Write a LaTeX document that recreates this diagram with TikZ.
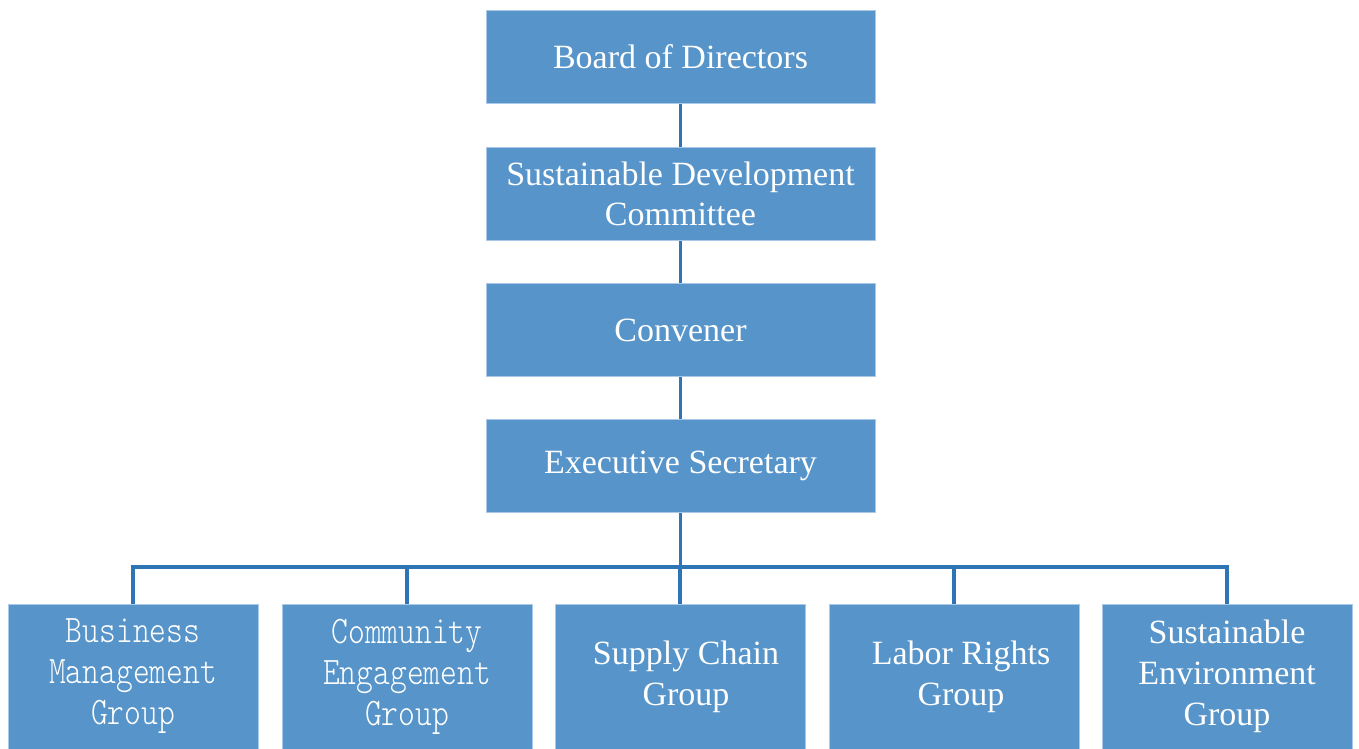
\documentclass[tikz,border=0pt]{standalone}
\usepackage{fontspec}
\setmainfont{Liberation Serif}
\newfontfamily\monof[FakeStretch=0.82]{Latin Modern Mono Light}
\definecolor{boxfill}{RGB}{86,148,201}
\definecolor{boxedge}{RGB}{170,200,232}
\definecolor{conncol}{RGB}{46,117,182}
\begin{document}
\begin{tikzpicture}[x=1pt,y=-1pt,
  topbox/.style={rectangle,fill=boxfill,draw=boxedge,line width=1pt,inner sep=0pt,
    minimum width=389pt,minimum height=93pt,text=white,align=center,
    font=\fontsize{34}{40}\selectfont},
  botbox/.style={rectangle,fill=boxfill,draw=boxedge,line width=1pt,inner sep=0pt,
    minimum width=250pt,minimum height=145pt,text=white,align=center,
    font=\fontsize{34}{41}\selectfont},
  monobox/.style={botbox,font=\monof\fontsize{39}{41}\selectfont},
  conn/.style={draw=conncol,line width=3.2pt}]
\useasboundingbox (0,0) rectangle (1359,749);
\node[topbox] (bod) at (680.5,57) {Board of Directors};
\node[topbox] (sdc) at (680.5,194) {Sustainable Development\\Committee};
\node[topbox] (con) at (680.5,330) {Convener};
\node[topbox] (es) at (680.5,466) {Executive Secretary};
\node[monobox] (b1) at (133,676.5) {Business\\Management\\Group};
\node[monobox] (b2) at (407,676.5) {Community\\Engagement\\Group};
\node[botbox] (b3) at (680,676.5) {\hspace*{12pt}Supply Chain\\\hspace*{12pt}Group};
\node[botbox] (b4) at (954,676.5) {\hspace*{14pt}Labor Rights\\\hspace*{14pt}Group};
\node[botbox] (b5) at (1227,676.5) {Sustainable\\Environment\\Group};
\coordinate (bus) at (680.5,567);
\draw[conn] (bod) -- (sdc);
\draw[conn] (sdc) -- (con);
\draw[conn] (con) -- (es);
\draw[conn] (es.south) -- (bus);
\draw[conn] (b1.north) |- (bus) -| (b5.north);
\draw[conn] (b2.north) -- (b2.north |- bus);
\draw[conn] (b3.north) -- (b3.north |- bus);
\draw[conn] (b4.north) -- (b4.north |- bus);
\end{tikzpicture}
\end{document}
